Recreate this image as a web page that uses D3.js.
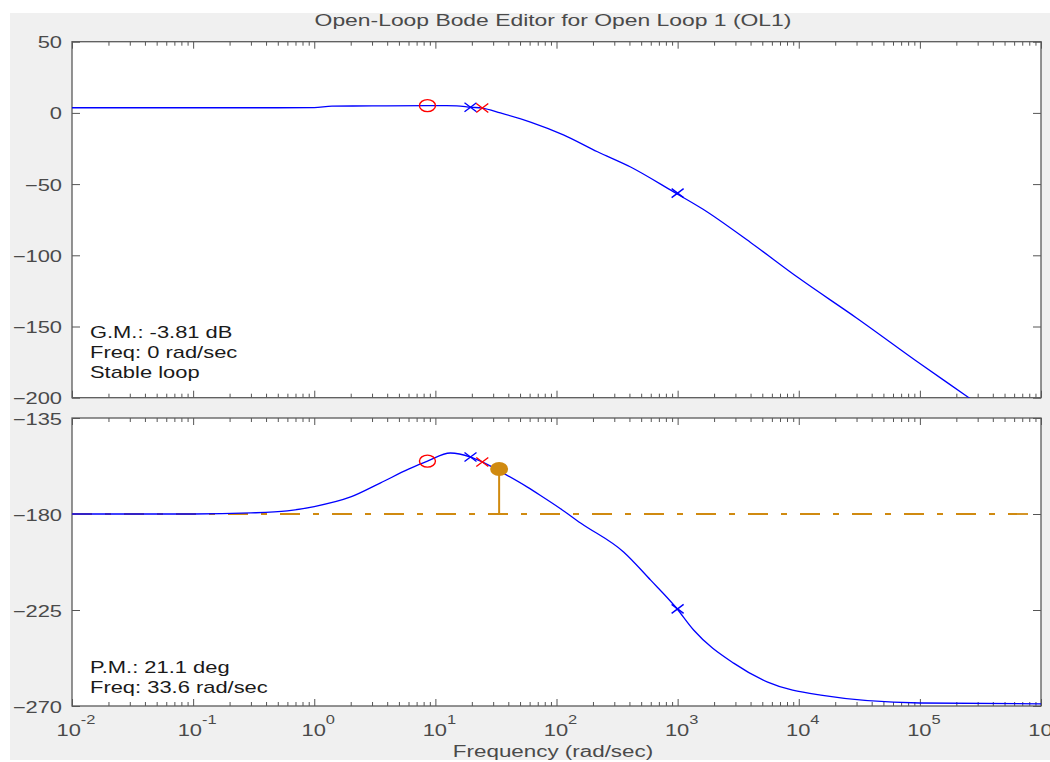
<!DOCTYPE html>
<html>
<head>
<meta charset="utf-8">
<script src="https://cdn.jsdelivr.net/npm/d3@7"></script>
<style>
body { margin: 0; background: #fff; }
text { font-family: "Liberation Sans", Arial, sans-serif; }
</style>
</head>
<body>
<svg></svg>
<script>
var width = 1050;
var height = 762;

// magnitude curve (rad/sec, dB)
var magFreq = [0.01, 0.1, 0.5, 1, 1.4, 3, 8.6, 15, 19.5, 24.4, 34.4, 61, 114, 218, 409, 927, 1610, 4000, 10000, 30000, 100000, 254000, 1000000];
var magDb = [3.6, 3.6, 3.6, 3.7, 4.8, 4.9, 5.1, 5.0, 4.0, 3.4, 0, -6.4, -15.4, -27.3, -38, -55.5, -67.5, -91, -116, -144, -176, -200, -236];

// phase curve (rad/sec, deg)
var phFreq = [0.01, 0.1, 0.3, 0.6, 1, 2, 3.5, 6, 8.6, 13.3, 19.5, 24.4, 33.6, 57.5, 73.8, 108, 158, 358, 599, 962, 1355, 2900, 5540, 15200, 100000, 1000000];
var phDeg = [-180, -180, -179.5, -178.5, -176.5, -172, -165.5, -159, -155.2, -151.4, -153.3, -155.6, -159.8, -167.4, -171.3, -177.5, -184.2, -197.8, -211, -223.6, -234.4, -249.9, -258.8, -264.9, -268.6, -269];

// compensator / plant markers
var zeroFreq = [8.6], zeroMag = [5.1], zeroPh = [-155.2];
var compPoleFreq = [24.4], compPoleMag = [3.4], compPolePh = [-155.6];
var plantPoleFreq = [19.5, 1000], plantPoleMag = [4.0, -56.3], plantPolePh = [-153.3, -224.5];

// phase margin
var pmFreq = 33.6, pmPhase = -158.9;

var magTicks = [50, 0, -50, -100, -150, -200];
var phTicks = [-135, -180, -225, -270];
var decades = [-2, -1, 0, 1, 2, 3, 4, 5, 6];

var gmText = ["G.M.: -3.81 dB", "Freq: 0 rad/sec", "Stable loop"];
var pmText = ["P.M.: 21.1 deg", "Freq: 33.6 rad/sec"];

var SX = 1.37;
var blue = "#0000ff", red = "#ff0000", orange = "#d08a10";
var tickCol = "#4a4a4a";

var svg = d3.select('svg').attr('width', width).attr('height', height);
svg.append('rect').attr('width', width).attr('height', height).attr('fill', '#fff');
svg.append('rect').attr('x', 10).attr('y', 13).attr('width', width - 10).attr('height', 747).attr('fill', '#f0f0f0');

var left = 72, right = 1041;
var x = d3.scaleLog().domain([0.01, 1e6]).range([left, right]);
var yMag = d3.scaleLinear().domain([-200, 50]).range([397.7, 41.7]);
var yPh = d3.scaleLinear().domain([-270, -135]).range([706, 418]);

var minors = [];
decades.slice(0, -1).forEach(function(k){
    for (var m = 2; m <= 9; m++) minors.push(m * Math.pow(10, k));
});
var majors = decades.map(function(k){ return Math.pow(10, k); });

function stext(g, tx, ty, str, anchor, size, col, sx){
    return g.append('text')
        .attr('transform', 'translate(' + tx + ',' + ty + ') scale(' + (sx || SX) + ',1)')
        .attr('text-anchor', anchor)
        .attr('font-size', size)
        .attr('fill', col)
        .text(str);
}

function panel(y, ticks, id){
    var r = y.range();
    var top = r[1], bot = r[0];
    var g = svg.append('g');
    g.append('rect').attr('x', left).attr('y', top).attr('width', right - left).attr('height', bot - top)
        .attr('fill', '#fff');
    svg.append('clipPath').attr('id', id).append('rect')
        .attr('x', left).attr('y', top).attr('width', right - left).attr('height', bot - top);

    // x ticks bottom and top
    [[d3.axisBottom, bot], [d3.axisTop, top]].forEach(function(a){
        g.append('g').attr('transform', 'translate(0,' + a[1] + ')')
            .call(a[0](x).tickValues(majors).tickSize(-7).tickFormat(''))
            .call(function(s){ s.select('.domain').remove(); s.selectAll('line').attr('stroke', '#555'); });
        g.append('g').attr('transform', 'translate(0,' + a[1] + ')')
            .call(a[0](x).tickValues(minors).tickSize(-4).tickFormat(''))
            .call(function(s){ s.select('.domain').remove(); s.selectAll('line').attr('stroke', '#555'); });
    });

    // y ticks left with labels, right without
    var ya = g.append('g').attr('transform', 'translate(' + left + ',0)')
        .call(d3.axisLeft(y).tickValues(ticks).tickSize(-8).tickFormat(d3.format('d')))
        .call(function(s){ s.select('.domain').remove(); s.selectAll('line').attr('stroke', '#555'); });
    ya.selectAll('text')
        .attr('x', null).attr('dy', null)
        .attr('transform', 'translate(-10,6) scale(' + SX + ',1)')
        .attr('font-size', 16).attr('fill', tickCol)
        .attr('font-family', '"Liberation Sans", Arial, sans-serif');
    g.append('g').attr('transform', 'translate(' + right + ',0)')
        .call(d3.axisRight(y).tickValues(ticks).tickSize(-8).tickFormat(''))
        .call(function(s){ s.select('.domain').remove(); s.selectAll('line').attr('stroke', '#555'); });

    g.append('rect').attr('x', left).attr('y', top).attr('width', right - left).attr('height', bot - top)
        .attr('fill', 'none').attr('stroke', '#5a5a5a').attr('stroke-width', 1.3);
    return g;
}

var gMag = panel(yMag, magTicks, 'clipMag');
var gPh = panel(yPh, phTicks, 'clipPh');

function curve(g, fx, vy, y, clip){
    var pts = fx.map(function(f, i){ return [x(f), y(vy[i])]; });
    g.append('path')
        .attr('clip-path', 'url(#' + clip + ')')
        .attr('d', d3.line().curve(d3.curveMonotoneX)(pts))
        .attr('fill', 'none').attr('stroke', blue).attr('stroke-width', 1.3);
}

function xMark(g, px, py, col){
    g.append('path')
        .attr('d', 'M' + (px - 6) + ',' + (py - 4.5) + 'L' + (px + 6) + ',' + (py + 4.5) +
                   'M' + (px - 6) + ',' + (py + 4.5) + 'L' + (px + 6) + ',' + (py - 4.5))
        .attr('stroke', col).attr('stroke-width', 1.4).attr('fill', 'none');
}

function oMark(g, px, py){
    g.append('ellipse').attr('cx', px).attr('cy', py).attr('rx', 8).attr('ry', 6)
        .attr('fill', 'none').attr('stroke', red).attr('stroke-width', 1.4);
}

// -180 line and phase margin stem (drawn under the curve)
gPh.append('line')
    .attr('x1', left).attr('x2', right).attr('y1', yPh(-180)).attr('y2', yPh(-180))
    .attr('stroke', orange).attr('stroke-width', 1.8).attr('stroke-dasharray', '20,13,6,13');
gPh.append('line')
    .attr('x1', x(pmFreq)).attr('x2', x(pmFreq)).attr('y1', yPh(pmPhase)).attr('y2', yPh(-180))
    .attr('stroke', orange).attr('stroke-width', 2);

curve(gMag, magFreq, magDb, yMag, 'clipMag');
curve(gPh, phFreq, phDeg, yPh, 'clipPh');

gPh.append('ellipse').attr('cx', x(pmFreq)).attr('cy', yPh(pmPhase)).attr('rx', 9).attr('ry', 7)
    .attr('fill', orange);

zeroFreq.forEach(function(f, i){
    oMark(gMag, x(f), yMag(zeroMag[i]));
    oMark(gPh, x(f), yPh(zeroPh[i]));
});
plantPoleFreq.forEach(function(f, i){
    xMark(gMag, x(f), yMag(plantPoleMag[i]), blue);
    xMark(gPh, x(f), yPh(plantPolePh[i]), blue);
});
compPoleFreq.forEach(function(f, i){
    xMark(gMag, x(f), yMag(compPoleMag[i]), red);
    xMark(gPh, x(f), yPh(compPolePh[i]), red);
});

// annotations
gmText.forEach(function(t, i){ stext(svg, 90, 338 + i * 20, t, 'start', 16, '#1a1a1a'); });
pmText.forEach(function(t, i){ stext(svg, 90, 673 + i * 19.5, t, 'start', 16, '#1a1a1a'); });

// x tick labels 10^k
decades.forEach(function(k){
    var t = svg.append('text')
        .attr('transform', 'translate(' + (x(Math.pow(10, k)) + 4) + ',736) scale(' + SX + ',1)')
        .attr('text-anchor', 'middle')
        .attr('font-size', 16).attr('fill', tickCol);
    t.append('tspan').text('10');
    t.append('tspan').attr('dy', -12).attr('font-size', 12).text(k);
});

stext(svg, 553, 26, 'Open-Loop Bode Editor for Open Loop 1 (OL1)', 'middle', 16, tickCol, 1.43);
stext(svg, 553, 757, 'Frequency (rad/sec)', 'middle', 16, tickCol, 1.4);
</script>
</body>
</html>
